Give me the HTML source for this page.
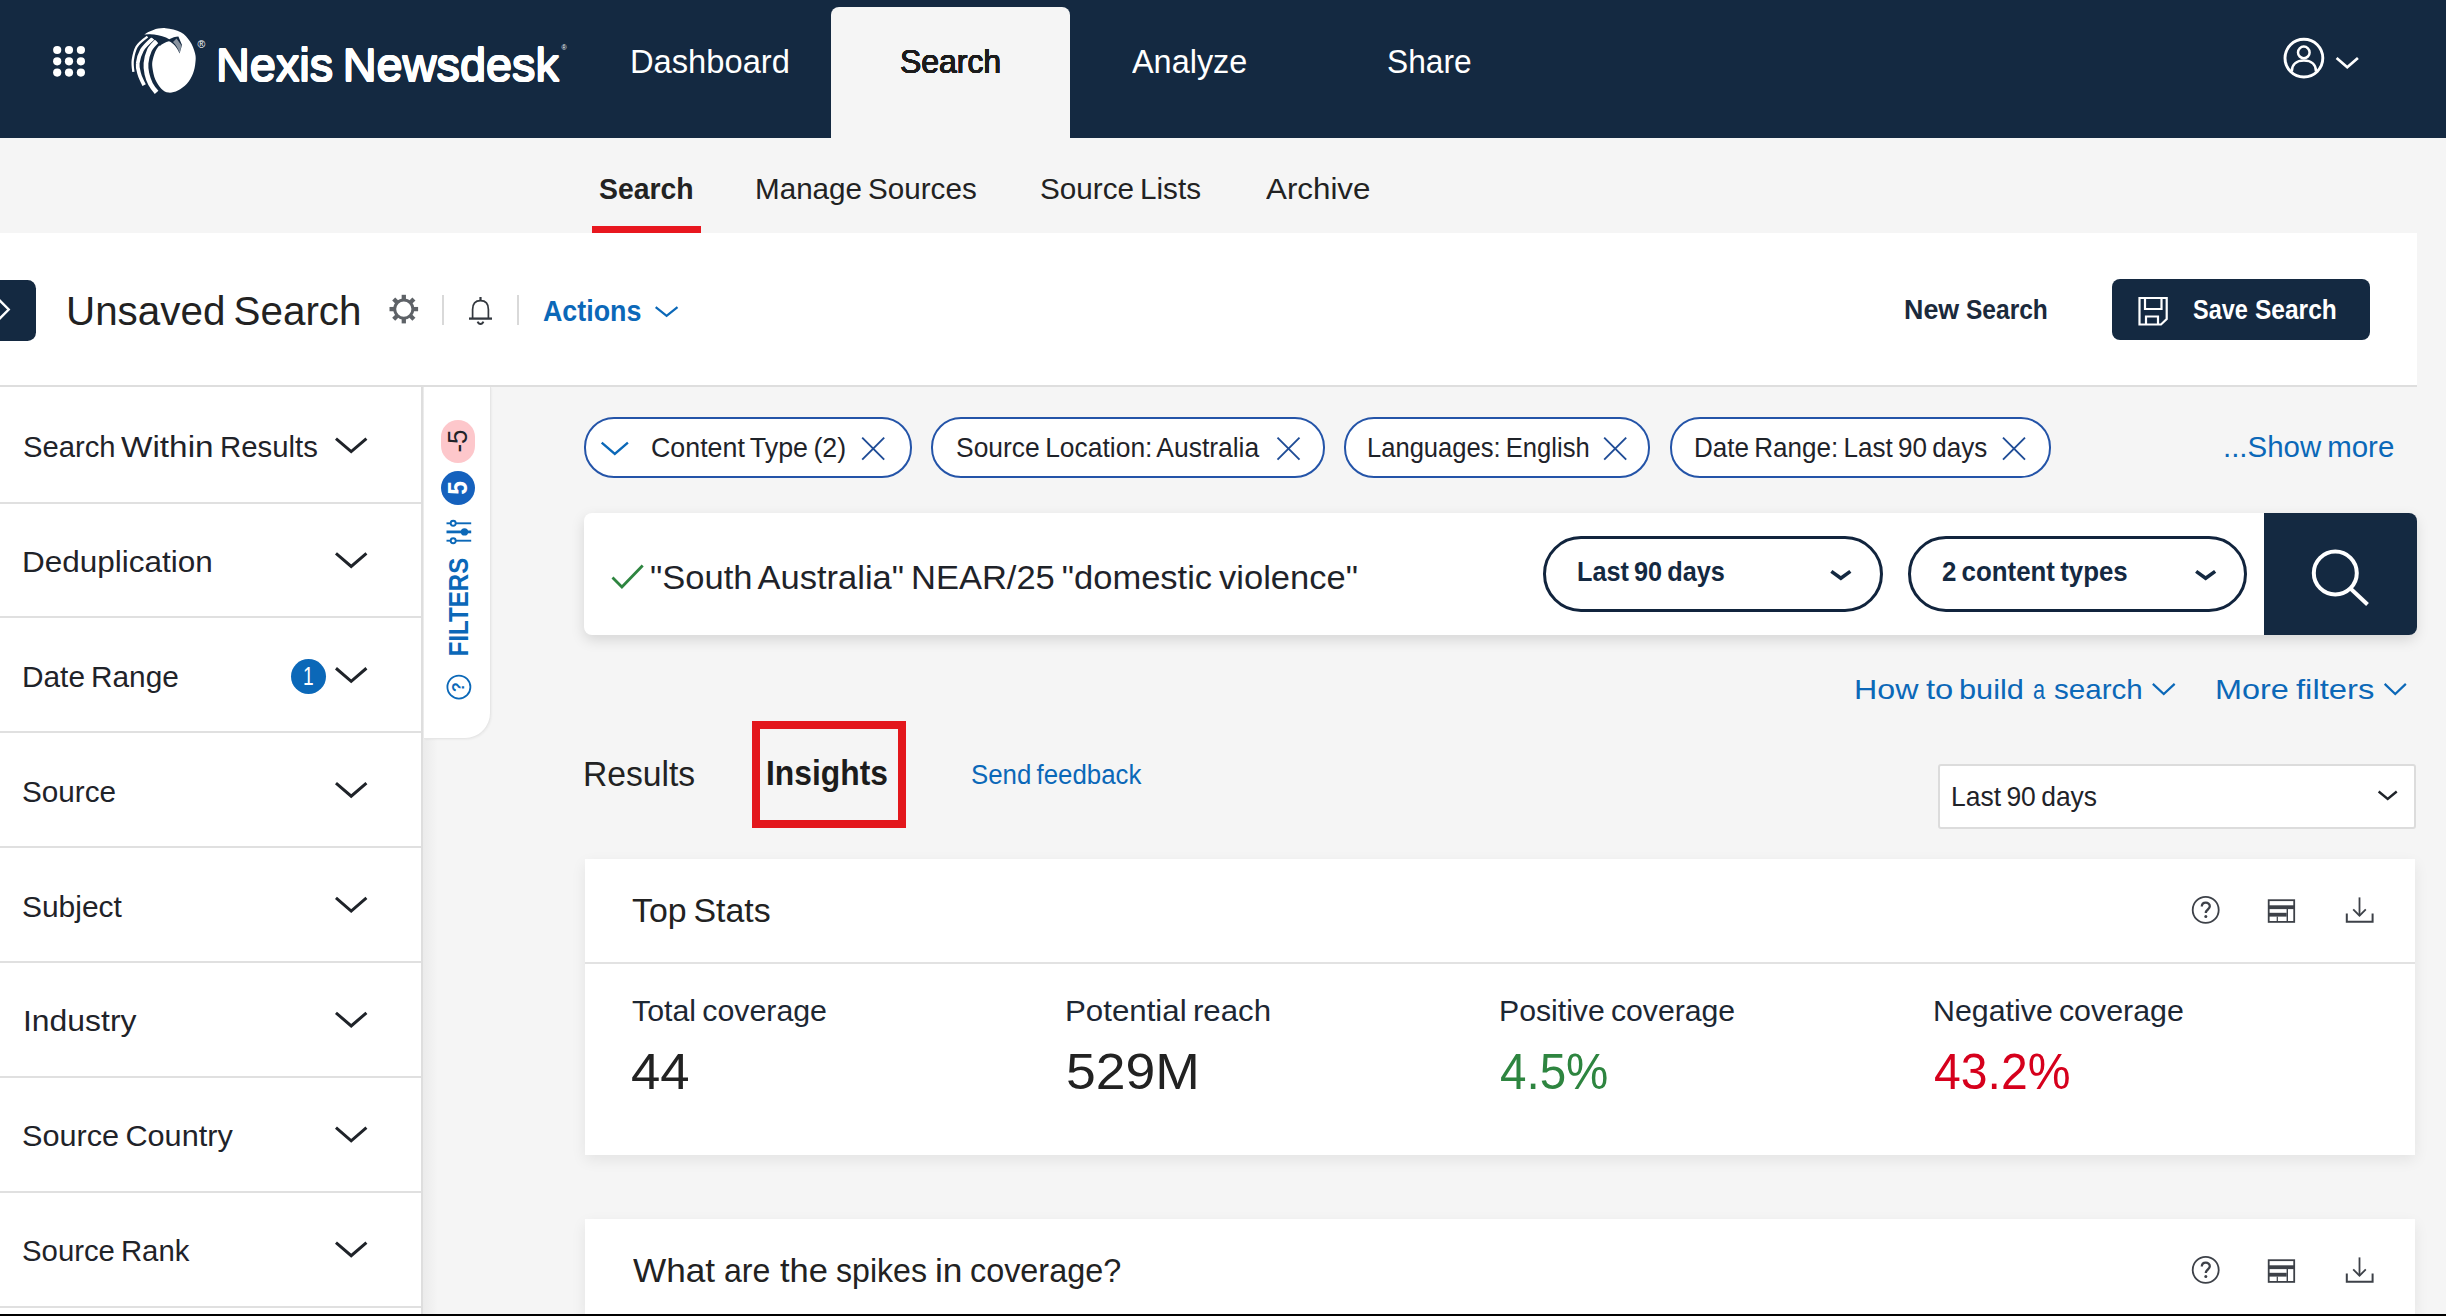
<!DOCTYPE html>
<html lang="en"><head><meta charset="utf-8"><title>Nexis Newsdesk</title>
<style>
html,body{margin:0;padding:0;}
html{width:2446px;height:1316px;overflow:hidden;background:#f5f5f5;}
body{width:2446px;height:1316px;overflow:hidden;position:relative;background:#f5f5f5;font-family:"Liberation Sans",sans-serif;}
.a{position:absolute;}
.t{position:absolute;white-space:nowrap;line-height:1;transform-origin:0 0;display:block;}
svg{position:absolute;overflow:visible;}
.chip{position:absolute;top:416.8px;height:57.6px;border:2px solid #2454a8;border-radius:30px;background:#fff;}
.pill{position:absolute;top:535.6px;height:70.4px;border:3.3px solid #11243d;border-radius:38px;background:#fff;}
.sbline{position:absolute;left:0;width:421px;height:2px;background:#e0e0e0;}

</style></head>
<body>
<!-- ===== header ===== -->
<div class="a" style="left:0;top:0;width:2446px;height:137.7px;background:#142941;"></div>
<div class="a" style="left:830.8px;top:7.4px;width:239.4px;height:131px;background:#f5f5f5;border-radius:8px 8px 0 0;"></div>
<svg width="2446" height="137" style="left:0;top:0" viewBox="0 0 2446 137">
  <!-- app grid -->
  <g fill="#ffffff">
    <circle cx="57.2" cy="50" r="4.1"/><circle cx="69" cy="50" r="4.1"/><circle cx="80.9" cy="50" r="4.1"/>
    <circle cx="57.2" cy="61.3" r="4.1"/><circle cx="69" cy="61.3" r="4.1"/><circle cx="80.9" cy="61.3" r="4.1"/>
    <circle cx="57.2" cy="72.6" r="4.1"/><circle cx="69" cy="72.6" r="4.1"/><circle cx="80.9" cy="72.6" r="4.1"/>
  </g>
  <!-- globe logo -->
  <g>
    <path fill="#ffffff" d="M165.6 28.2 C170.2 28.6 176.8 30.0 180.8 32.2 C184.9 34.4 187.5 37.8 189.9 41.3 C192.3 44.8 194.2 49.8 195.1 53.4 C196.0 57.0 195.8 59.2 195.4 62.6 C195.1 66.0 194.4 70.0 193.0 73.5 C191.6 77.0 189.4 81.0 186.9 83.8 C184.4 86.6 180.9 89.0 177.8 90.5 C174.8 92.0 171.3 92.9 168.6 92.6 C165.8 92.3 163.5 90.9 161.3 88.7 C159.1 86.5 156.8 83.1 155.3 79.6 C153.8 76.0 152.8 70.8 152.4 67.4 C152.0 64.1 152.1 62.5 152.8 59.5 C153.5 56.5 154.9 52.0 156.5 49.2 C158.1 46.4 160.5 43.8 163.5 41.5 L160 36.5 C155 35 149 34.6 144.3 34.8 C146.5 32.5 149.9 31.0 153.4 29.9 C156.9 28.8 161.0 27.8 165.6 28.2 Z"/>
    <g fill="none" stroke="#ffffff" stroke-linecap="butt">
      <path d="M158.5 39.5 C155.3 42.5 151.2 46.3 149.5 50.0 C147.8 53.7 146.4 59.2 146.0 63.2 C145.6 67.2 146.2 70.4 146.9 73.9 C147.7 77.4 148.9 80.9 150.5 84.0 C152.1 87.1 155.3 90.9 156.6 92.4" stroke-width="4.8"/>
      <path d="M153 38.3 C149.1 41.7 144.1 46.1 142.0 50.0 C139.9 53.9 138.1 59.2 137.7 63.2 C137.2 67.2 138.3 70.3 139.3 73.9 C140.3 77.5 143.1 83.0 144.2 85.2" stroke-width="3.7"/>
      <path d="M147.5 36.6 C143.2 39.7 138.4 43.4 136.5 47.0 C134.6 50.6 133.4 55.9 132.8 60.0 C132.2 64.1 133.1 69.6 133.4 71.8" stroke-width="2.3"/>
    </g>
    <path d="M143.5 34.7 C151 33.4 159.5 34.6 166 37.6 L169.2 39.3 C172 37.6 175.6 36.6 178.4 36.5 L182 45 L179.6 53.6 C177.4 47.8 173.6 43.2 169 41.2 C165.4 42.2 162.2 43.8 159.6 46.2 C158.6 41.8 153.4 37.2 143.5 34.7 Z" fill="#142941"/>
    <path d="M176.5 38.5 L181.5 45.5 L179.6 53 C178 48 175.5 44.5 173 42 Z" fill="#ffffff" opacity="0.5"/>
  </g>
  <!-- user icon -->
  <g fill="none" stroke="#ffffff" stroke-width="2.9">
    <circle cx="2303.9" cy="58.1" r="18.9"/>
    <circle cx="2303.8" cy="52.4" r="5.8" stroke-width="2.5"/>
    <path d="M2291.8 71.5 C2291.8 64 2297 60.6 2303.9 60.6 C2310.8 60.6 2316 64 2316 71.5" stroke-width="2.5"/>
    <path d="M2336.59 57.91 L2347.25 67.31 L2357.91 57.91" stroke-width="2.7"/>
  </g>
</svg>
<span class="a" style="left:197.4px;top:39.3px;font-size:10.5px;color:#fff;line-height:1;">®</span>
<span class="a" style="left:561.5px;top:44px;font-size:7px;color:#fff;line-height:1;">®</span>

<!-- ===== sub nav ===== -->
<div class="a" style="left:592px;top:226px;width:108.5px;height:8px;background:#e8171f;"></div>

<!-- ===== title panel ===== -->
<div class="a" style="left:0;top:233px;width:2417px;height:152px;background:#ffffff;border-bottom:2px solid #dedede;"></div>
<div class="a" style="left:0;top:279.5px;width:36.2px;height:61px;background:#142941;border-radius:0 8.5px 8.5px 0;"></div>
<div class="a" style="left:442px;top:295px;width:2px;height:30px;background:#d9d9d9;"></div>
<div class="a" style="left:517px;top:295px;width:2px;height:30px;background:#d9d9d9;"></div>
<div class="a" style="left:2112px;top:279.3px;width:258.3px;height:61.2px;background:#142941;border-radius:8px;"></div>
<svg width="2446" height="160" style="left:0;top:233px" viewBox="0 233 2446 160">
  <path d="M-1 299.7 L8.7 309.5 L-1 319.3" fill="none" stroke="#fff" stroke-width="2.4"/>
  <!-- gear -->
  <g transform="translate(403.8 309.1)" fill="none" stroke="#5e6267">
    <circle r="9.1" stroke-width="3"/>
    <g stroke-width="4.3">
      <path d="M0 -9.6 V-14.3"/><path d="M0 9.6 V14.3"/><path d="M-9.6 0 H-14.3"/><path d="M9.6 0 H14.3"/>
      <path d="M6.8 -6.8 L10.1 -10.1"/><path d="M-6.8 -6.8 L-10.1 -10.1"/><path d="M6.8 6.8 L10.1 10.1"/><path d="M-6.8 6.8 L-10.1 10.1"/>
    </g>
  </g>
  <!-- bell -->
  <g fill="none" stroke="#33383f" stroke-width="1.7">
    <path d="M472.6 318 V309.5 C472.6 303 476.2 300.6 480.5 300.6 C484.8 300.6 488.4 303 488.4 309.5 V318"/>
    <path d="M469 318.6 H492" stroke-width="2.3"/>
    <path d="M480.5 300.6 V297" stroke-width="2.2"/>
    <path d="M477.6 321.6 C478.8 324.8 482.2 324.8 483.4 321.6" stroke-width="1.9"/>
  </g>
  <!-- actions chevron -->
  <path d="M655.69 307.05 L666.60 315.89 L677.51 307.05" fill="none" stroke="#0b68b8" stroke-width="2.2"/>
  <!-- floppy -->
  <g fill="none" stroke="#ffffff" stroke-width="2.2">
    <path d="M2139.5 298 H2166.7 V319 L2161 324.5 H2139.5 Z"/>
    <path d="M2145 298 V309 H2161.5 V298"/>
    <path d="M2146 324.5 V316.5 H2158 V324.5"/>
  </g>
</svg>

<!-- ===== sidebar ===== -->
<div class="a" style="left:423px;top:387px;width:15px;height:929px;background:linear-gradient(90deg,#ebebeb,#f5f5f5);"></div>
<div class="a" style="left:0;top:387px;width:421px;height:929px;background:#ffffff;border-right:2px solid #dedede;"></div>
<div class="sbline" style="top:501.5px"></div><div class="sbline" style="top:616.4px"></div><div class="sbline" style="top:731.2px"></div><div class="sbline" style="top:846.1px"></div><div class="sbline" style="top:960.9px"></div><div class="sbline" style="top:1075.8px"></div><div class="sbline" style="top:1190.7px"></div><div class="sbline" style="top:1305.5px"></div>
<div class="a" style="left:290.7px;top:658.7px;width:35px;height:35px;border-radius:50%;background:#0b68b8;"></div>
<svg width="421" height="929" style="left:0;top:387px" viewBox="0 387 421 929">
  <g fill="none" stroke="#1f2329" stroke-width="3">
    <path d="M335.98 438.54 L351.20 451.63 L366.42 438.54"/>
    <path d="M335.98 553.40 L351.20 566.49 L366.42 553.40"/>
    <path d="M335.98 668.26 L351.20 681.35 L366.42 668.26"/>
    <path d="M335.98 783.12 L351.20 796.21 L366.42 783.12"/>
    <path d="M335.98 897.98 L351.20 911.07 L366.42 897.98"/>
    <path d="M335.98 1012.84 L351.20 1025.93 L366.42 1012.84"/>
    <path d="M335.98 1127.70 L351.20 1140.79 L366.42 1127.70"/>
    <path d="M335.98 1242.56 L351.20 1255.65 L366.42 1242.56"/>
  </g>
</svg>

<!-- ===== filters tab ===== -->
<div class="a" style="left:424px;top:387px;width:66.3px;height:351.3px;background:#ffffff;border-radius:0 0 26px 0;border-right:1.5px solid #e6e6e6;border-bottom:1.5px solid #e6e6e6;box-shadow:1px 1px 2px rgba(0,0,0,.04);"></div>
<div class="a" style="left:440.6px;top:419.5px;width:34px;height:43.5px;border-radius:17px;background:#fdc7cb;"></div>
<div class="a" style="left:441px;top:471px;width:34px;height:34px;border-radius:50%;background:#1561bd;"></div>
<span class="a" style="left:458px;top:441px;width:0;height:0;"><span style="position:absolute;left:-30px;top:-14px;width:60px;height:28px;line-height:28px;text-align:center;font-size:28px;color:#1f2329;transform:rotate(-90deg) scaleX(0.92);white-space:nowrap;">-5</span></span>
<span class="a" style="left:458px;top:488px;width:0;height:0;"><span style="position:absolute;left:-30px;top:-14px;width:60px;height:28px;line-height:28px;text-align:center;font-size:28px;font-weight:700;color:#fff;transform:rotate(-90deg) scaleX(0.88);white-space:nowrap;">5</span></span>
<span class="a" style="left:458.2px;top:606.5px;width:0;height:0;"><span style="position:absolute;left:-70px;top:-15px;width:140px;height:30px;line-height:30px;text-align:center;font-size:28.5px;font-weight:700;color:#0b68b8;transform:rotate(-90deg) scaleX(0.845);white-space:nowrap;">FILTERS</span></span>
<svg width="70" height="351" style="left:424px;top:387px" viewBox="424 387 70 351">
  <!-- sliders (rotated) -->
  <g fill="none" stroke="#0b68b8" stroke-width="1.9">
    <path d="M446.5 523.3 H471.2"/><path d="M446.5 531.9 H471.2" stroke-width="2.8"/><path d="M446.5 540.7 H471.2"/>
  </g>
  <g fill="#ffffff" stroke="#0b68b8" stroke-width="1.9">
    <circle cx="453.2" cy="523.3" r="2.5"/><circle cx="464.5" cy="531.9" r="2.7" fill="#0b68b8"/><circle cx="453.2" cy="540.7" r="2.5"/>
  </g>
  <!-- help -->
  <circle cx="458.9" cy="687.1" r="11.5" fill="none" stroke="#0b68b8" stroke-width="1.8"/>
</svg>
<span class="a" style="left:458.7px;top:687.2px;width:0;height:0;"><span style="position:absolute;left:-15px;top:-10px;width:30px;height:20px;line-height:20px;text-align:center;font-size:16px;font-weight:700;color:#0b68b8;transform:rotate(-90deg);">?</span></span>

<!-- ===== chips ===== -->
<div class="chip" style="left:584px;width:324px;"></div>
<div class="chip" style="left:931px;width:390px;"></div>
<div class="chip" style="left:1344px;width:302px;"></div>
<div class="chip" style="left:1669.5px;width:377px;"></div>
<svg width="1500" height="70" style="left:580px;top:414px" viewBox="580 414 1500 70">
  <path d="M601.69 442.61 L614.80 454.00 L627.91 442.61" fill="none" stroke="#0b68b8" stroke-width="2.4"/>
  <g fill="none" stroke="#1f4c96" stroke-width="1.9">
    <path d="M862.2 437.7 L884.2 459.7 M884.2 437.7 L862.2 459.7"/>
    <path d="M1277.5 437.7 L1299.5 459.7 M1299.5 437.7 L1277.5 459.7"/>
    <path d="M1604.2 437.7 L1626.2 459.7 M1626.2 437.7 L1604.2 459.7"/>
    <path d="M2003 437.7 L2025 459.7 M2025 437.7 L2003 459.7"/>
  </g>
</svg>

<!-- ===== search bar ===== -->
<div class="a" style="left:584px;top:513px;width:1832px;height:122px;background:#ffffff;border-radius:8px;box-shadow:0 5px 14px rgba(0,0,0,.13);"></div>
<div class="a" style="left:2263.5px;top:513px;width:153px;height:122px;background:#142941;border-radius:0 8px 8px 0;"></div>
<div class="pill" style="left:1542.9px;width:334.5px;"></div>
<div class="pill" style="left:1907.7px;width:333.5px;"></div>
<svg width="1840" height="130" style="left:580px;top:510px" viewBox="580 510 1840 130">
  <path d="M612.5 577.5 L621.9 587 L642.7 565.5" fill="none" stroke="#2e8540" stroke-width="2.8"/>
  <g fill="none" stroke="#142941" stroke-width="3.6">
    <path d="M1831.36 571.35 L1840.85 578.27 L1850.34 571.35"/>
    <path d="M2196.16 571.35 L2205.65 578.27 L2215.14 571.35"/>
  </g>
  <g fill="none" stroke="#ffffff" stroke-width="4">
    <circle cx="2335.3" cy="573" r="21.5"/>
    <path d="M2351 589 L2367.5 604.5"/>
  </g>
</svg>
<svg width="300" height="30" style="left:2140px;top:675px" viewBox="2140 675 300 30">
  <g fill="none" stroke="#0b68b8" stroke-width="2.2">
    <path d="M2152.85 683.90 L2163.75 694.10 L2174.65 683.90"/>
    <path d="M2384.66 683.89 L2395.25 694.08 L2405.84 683.89"/>
  </g>
</svg>

<!-- ===== tabs row ===== -->
<div class="a" style="left:751.7px;top:720.7px;width:138.8px;height:91.3px;border:8px solid #e3171c;"></div>
<div class="a" style="left:1938.2px;top:764.2px;width:473.7px;height:60.4px;border:2px solid #dcdcdc;background:#fff;border-radius:3px;"></div>
<svg width="40" height="30" style="left:2370px;top:780px" viewBox="2370 780 40 30">
  <path d="M2378.66 791.53 L2387.70 798.86 L2396.74 791.53" fill="none" stroke="#1f2329" stroke-width="2.4"/>
</svg>

<!-- ===== cards ===== -->
<div class="a" style="left:585px;top:859px;width:1830px;height:295.5px;background:#ffffff;box-shadow:0 5px 14px rgba(0,0,0,.075);"></div>
<div class="a" style="left:585px;top:962px;width:1830px;height:2px;background:#e2e2e2;"></div>
<div class="a" style="left:585px;top:1219.4px;width:1830px;height:96.6px;background:#ffffff;box-shadow:0 5px 14px rgba(0,0,0,.075);"></div>

<svg width="260" height="436" style="left:2170px;top:880px" viewBox="2170 880 260 436">
  <defs>
    <g id="cicons" fill="none" stroke="#3d4148" stroke-width="1.8">
      <circle cx="2205.7" cy="-0.1" r="13"/>
      <path d="M2201.8 -3.4 C2201.8 -8.6 2209.8 -8.6 2209.8 -3.7 C2209.8 -0.4 2205.8 -0.6 2205.8 3" stroke-width="2.3"/>
      <circle cx="2205.8" cy="6.6" r="1.5" fill="#3d4148" stroke="none"/>
      <!-- table -->
      <rect x="2268.7" y="-9.8" width="25.5" height="21.7" stroke-width="1.8"/>
      <rect x="2268.7" y="-4.7" width="25.5" height="3.8" fill="#3d4148" stroke="none"/>
      <rect x="2268.7" y="2.8" width="18" height="3.8" fill="#3d4148" stroke="none"/>
      <path d="M2277.3 6.6 V12" stroke-width="1.2"/>
      <path d="M2287.3 -1 V12" stroke-width="1.4"/>
      <!-- download -->
      <path d="M2359.5 -12.6 V5.4"/>
      <path d="M2353.2 -0.6 L2359.5 5.7 L2365.8 -0.6"/>
      <path d="M2346.8 3.4 V11.7 H2372.6 V3.4" stroke-width="2"/>
    </g>
  </defs>
  <use href="#cicons" y="910"/>
  <use href="#cicons" y="1270"/>
</svg>

<!-- bottom black line -->
<div class="a" style="left:0;top:1314.4px;width:2446px;height:1.6px;background:#000;"></div>

<!-- text layer -->
<span class="t" style="left:215.59px;top:41.84px;font-size:46.5px;color:#ffffff;transform:scaleX(1.0080);word-spacing:-0.075em;text-shadow:0.74px 0.00px 0 #ffffff,-0.74px 0.00px 0 #ffffff,0.00px 0.75px 0 #ffffff,0.00px -0.75px 0 #ffffff,0.53px 0.53px 0 #ffffff,-0.53px 0.53px 0 #ffffff,0.53px -0.53px 0 #ffffff,-0.53px -0.53px 0 #ffffff;">Nexis Newsdesk</span>
<span class="t" style="left:630.45px;top:44.64px;font-size:33.5px;color:#ffffff;transform:scaleX(0.9756);">Dashboard</span>
<span class="t" style="left:899.84px;top:44.64px;font-size:33.5px;color:#1c1c1c;transform:scaleX(0.9527);text-shadow:0.37px 0.00px 0 #1c1c1c,-0.37px 0.00px 0 #1c1c1c,0.00px 0.35px 0 #1c1c1c,0.00px -0.35px 0 #1c1c1c,0.26px 0.25px 0 #1c1c1c,-0.26px 0.25px 0 #1c1c1c,0.26px -0.25px 0 #1c1c1c,-0.26px -0.25px 0 #1c1c1c;">Search</span>
<span class="t" style="left:1132.00px;top:44.64px;font-size:33.5px;color:#ffffff;transform:scaleX(0.9676);">Analyze</span>
<span class="t" style="left:1386.51px;top:44.64px;font-size:33.5px;color:#ffffff;transform:scaleX(0.9461);">Share</span>
<span class="t" style="left:599.06px;top:174.35px;font-size:30.3px;color:#222222;transform:scaleX(0.9362);font-weight:700;">Search</span>
<span class="t" style="left:754.69px;top:174.35px;font-size:30.3px;color:#222222;transform:scaleX(0.9777);word-spacing:-0.075em;">Manage Sources</span>
<span class="t" style="left:1040.47px;top:174.35px;font-size:30.3px;color:#222222;transform:scaleX(0.9793);word-spacing:-0.075em;">Source Lists</span>
<span class="t" style="left:1266.00px;top:174.35px;font-size:30.3px;color:#222222;transform:scaleX(1.0340);">Archive</span>
<span class="t" style="left:66.18px;top:289.87px;font-size:41.5px;color:#222222;transform:scaleX(0.9730);word-spacing:-0.075em;">Unsaved Search</span>
<span class="t" style="left:543.38px;top:296.13px;font-size:29.5px;color:#0b68b8;transform:scaleX(0.9088);font-weight:700;">Actions</span>
<span class="t" style="left:1904.32px;top:296.29px;font-size:27.3px;color:#1b2a3c;transform:scaleX(0.9831);font-weight:700;">New</span>
<span class="t" style="left:1965.92px;top:296.29px;font-size:27.3px;color:#1b2a3c;transform:scaleX(0.8991);font-weight:700;">Search</span>
<span class="t" style="left:2193.33px;top:296.29px;font-size:27.3px;color:#ffffff;transform:scaleX(0.8603);font-weight:700;">Save</span>
<span class="t" style="left:2254.92px;top:296.29px;font-size:27.3px;color:#ffffff;transform:scaleX(0.8980);font-weight:700;">Search</span>
<span class="t" style="left:22.69px;top:432.13px;font-size:29.5px;color:#1f2329;transform:scaleX(0.9902);">Search</span>
<span class="t" style="left:121.20px;top:432.13px;font-size:29.5px;color:#1f2329;transform:scaleX(1.1295);">Within</span>
<span class="t" style="left:219.51px;top:432.13px;font-size:29.5px;color:#1f2329;transform:scaleX(0.9943);">Results</span>
<span class="t" style="left:22.04px;top:546.99px;font-size:29.5px;color:#1f2329;transform:scaleX(1.0670);">Deduplication</span>
<span class="t" style="left:22.37px;top:661.85px;font-size:29.5px;color:#1f2329;transform:scaleX(1.0104);word-spacing:-0.075em;">Date Range</span>
<span class="t" style="left:22.47px;top:776.71px;font-size:29.5px;color:#1f2329;transform:scaleX(1.0071);">Source</span>
<span class="t" style="left:22.46px;top:891.57px;font-size:29.5px;color:#1f2329;transform:scaleX(1.0146);">Subject</span>
<span class="t" style="left:22.61px;top:1006.43px;font-size:29.5px;color:#1f2329;transform:scaleX(1.0815);">Industry</span>
<span class="t" style="left:22.44px;top:1121.29px;font-size:29.5px;color:#1f2329;transform:scaleX(1.0395);word-spacing:-0.075em;">Source Country</span>
<span class="t" style="left:22.48px;top:1236.15px;font-size:29.5px;color:#1f2329;transform:scaleX(0.9943);word-spacing:-0.075em;">Source Rank</span>
<span class="t" style="left:303.10px;top:662.57px;font-size:26.5px;color:#ffffff;transform:scaleX(0.7245);">1</span>
<span class="t" style="left:650.74px;top:434.12px;font-size:27.5px;color:#1f2329;transform:scaleX(0.9748);word-spacing:-0.075em;">Content Type (2)</span>
<span class="t" style="left:956.17px;top:434.12px;font-size:27.5px;color:#1f2329;transform:scaleX(0.9614);word-spacing:-0.075em;">Source Location: Australia</span>
<span class="t" style="left:1367.00px;top:434.12px;font-size:27.5px;color:#1f2329;transform:scaleX(0.9295);word-spacing:-0.075em;">Languages: English</span>
<span class="t" style="left:1694.27px;top:434.12px;font-size:27.5px;color:#1f2329;transform:scaleX(0.9465);word-spacing:-0.075em;">Date Range: Last 90 days</span>
<span class="t" style="left:2222.60px;top:433.02px;font-size:28.8px;color:#0b68b8;transform:scaleX(1.0226);word-spacing:-0.075em;">...Show more</span>
<span class="t" style="left:649.62px;top:561.14px;font-size:33.5px;color:#1f2329;transform:scaleX(1.0299);word-spacing:-0.075em;">&quot;South Australia&quot; NEAR/25 &quot;domestic violence&quot;</span>
<span class="t" style="left:1576.82px;top:559.14px;font-size:27px;color:#142941;transform:scaleX(0.9352);word-spacing:-0.075em;font-weight:700;">Last 90 days</span>
<span class="t" style="left:1941.69px;top:559.14px;font-size:27px;color:#142941;transform:scaleX(0.9570);word-spacing:-0.075em;font-weight:700;">2 content types</span>
<span class="t" style="left:1854.18px;top:675.80px;font-size:28px;color:#0b68b8;transform:scaleX(1.1501);">How</span>
<span class="t" style="left:1926.30px;top:675.80px;font-size:28px;color:#0b68b8;transform:scaleX(1.1703);">to</span>
<span class="t" style="left:1959.48px;top:675.80px;font-size:28px;color:#0b68b8;transform:scaleX(1.0979);">build</span>
<span class="t" style="left:2032.62px;top:675.80px;font-size:28px;color:#0b68b8;transform:scaleX(0.7731);">a</span>
<span class="t" style="left:2054.14px;top:675.80px;font-size:28px;color:#0b68b8;transform:scaleX(1.0557);">search</span>
<span class="t" style="left:2215.07px;top:675.80px;font-size:28px;color:#0b68b8;transform:scaleX(1.1576);">More</span>
<span class="t" style="left:2295.70px;top:675.80px;font-size:28px;color:#0b68b8;transform:scaleX(1.1708);">filters</span>
<span class="t" style="left:583.37px;top:757.30px;font-size:34.5px;color:#222222;transform:scaleX(0.9751);">Results</span>
<span class="t" style="left:766.21px;top:756.25px;font-size:35.5px;color:#1c1c1c;transform:scaleX(0.8963);font-weight:700;">Insights</span>
<span class="t" style="left:970.99px;top:762.31px;font-size:26.8px;color:#0b68b8;transform:scaleX(0.9638);word-spacing:-0.075em;">Send feedback</span>
<span class="t" style="left:1951.13px;top:783.02px;font-size:27.5px;color:#1f2329;transform:scaleX(0.9623);word-spacing:-0.075em;">Last 90 days</span>
<span class="t" style="left:631.67px;top:894.04px;font-size:33.5px;color:#222222;transform:scaleX(1.0105);word-spacing:-0.075em;">Top Stats</span>
<span class="t" style="left:631.73px;top:997.12px;font-size:28.8px;color:#1d2733;transform:scaleX(1.0532);word-spacing:-0.075em;">Total coverage</span>
<span class="t" style="left:1064.56px;top:997.12px;font-size:28.8px;color:#1d2733;transform:scaleX(1.0849);word-spacing:-0.075em;">Potential reach</span>
<span class="t" style="left:1498.54px;top:997.12px;font-size:28.8px;color:#1d2733;transform:scaleX(1.0490);word-spacing:-0.075em;">Positive coverage</span>
<span class="t" style="left:1932.63px;top:997.12px;font-size:28.8px;color:#1d2733;transform:scaleX(1.0539);word-spacing:-0.075em;">Negative coverage</span>
<span class="t" style="left:631.38px;top:1046.88px;font-size:50px;color:#222222;transform:scaleX(1.0525);">44</span>
<span class="t" style="left:1066.03px;top:1046.88px;font-size:50px;color:#222222;transform:scaleX(1.0704);">529M</span>
<span class="t" style="left:1500.26px;top:1046.88px;font-size:50px;color:#2e8540;transform:scaleX(0.9508);">4.5%</span>
<span class="t" style="left:1934.25px;top:1046.88px;font-size:50px;color:#d6001c;transform:scaleX(0.9627);">43.2%</span>
<span class="t" style="left:632.60px;top:1254.44px;font-size:33.5px;color:#222222;transform:scaleX(1.0498);">What</span>
<span class="t" style="left:724.10px;top:1254.44px;font-size:33.5px;color:#222222;transform:scaleX(0.9584);">are</span>
<span class="t" style="left:780.30px;top:1254.44px;font-size:33.5px;color:#222222;transform:scaleX(1.0307);">the</span>
<span class="t" style="left:836.20px;top:1254.44px;font-size:33.5px;color:#222222;transform:scaleX(0.9584);">spikes</span>
<span class="t" style="left:935.09px;top:1254.44px;font-size:33.5px;color:#222222;transform:scaleX(1.0544);">in</span>
<span class="t" style="left:969.89px;top:1254.44px;font-size:33.5px;color:#222222;transform:scaleX(0.9660);">coverage?</span>
</body></html>
